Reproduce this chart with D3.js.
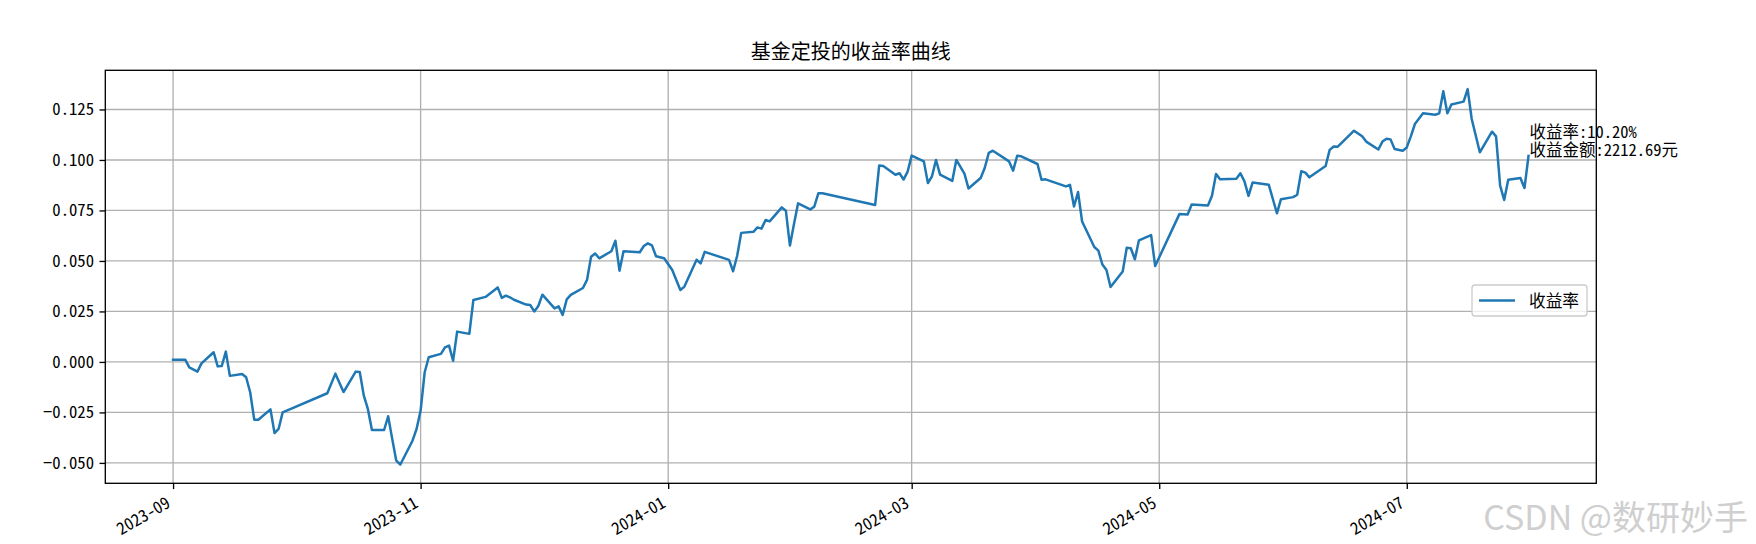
<!DOCTYPE html>
<html>
<head>
<meta charset="utf-8">
<script src="https://cdn.jsdelivr.net/npm/d3@7"></script>
<style>
  html, body { margin: 0; padding: 0; background: #fff; }
  svg text { font-family: "Noto Sans CJK SC", "Noto Sans", sans-serif; font-feature-settings: "hwid" 1; }
  svg text.wm { font-feature-settings: normal; }
</style>
</head>
<body>
<svg id="chart" width="1756" height="544"></svg>
<script>
// ---------------- data ----------------
const dates = [
  "2023-09-01","2023-09-04","2023-09-05","2023-09-07","2023-09-08","2023-09-11","2023-09-12","2023-09-13","2023-09-14","2023-09-15","2023-09-18","2023-09-19","2023-09-20","2023-09-21","2023-09-22","2023-09-25","2023-09-26","2023-09-27","2023-09-28",
  "2023-10-09","2023-10-11","2023-10-13","2023-10-16","2023-10-17","2023-10-18","2023-10-19","2023-10-20","2023-10-23","2023-10-24","2023-10-25","2023-10-26","2023-10-27","2023-10-30","2023-10-31",
  "2023-11-01","2023-11-02","2023-11-03","2023-11-06","2023-11-07","2023-11-08","2023-11-09","2023-11-10","2023-11-13","2023-11-14","2023-11-17","2023-11-20","2023-11-21","2023-11-22","2023-11-23","2023-11-24","2023-11-27","2023-11-28","2023-11-29","2023-11-30",
  "2023-12-01","2023-12-04","2023-12-05","2023-12-06","2023-12-07","2023-12-08","2023-12-11","2023-12-12","2023-12-13","2023-12-14","2023-12-15","2023-12-18","2023-12-19","2023-12-20","2023-12-21","2023-12-25","2023-12-26","2023-12-27","2023-12-28","2023-12-29","2023-12-31",
  "2024-01-02","2024-01-04","2024-01-05","2024-01-08","2024-01-09","2024-01-10","2024-01-16","2024-01-17","2024-01-18","2024-01-19","2024-01-22","2024-01-23","2024-01-24","2024-01-25","2024-01-26","2024-01-29","2024-01-30","2024-01-31",
  "2024-02-01","2024-02-02","2024-02-05","2024-02-06","2024-02-07","2024-02-08","2024-02-21","2024-02-22","2024-02-23","2024-02-26","2024-02-27","2024-02-28","2024-02-29",
  "2024-03-01","2024-03-04","2024-03-05","2024-03-06","2024-03-07","2024-03-08","2024-03-11","2024-03-12","2024-03-14","2024-03-15","2024-03-18","2024-03-19","2024-03-20","2024-03-21","2024-03-25","2024-03-26","2024-03-27","2024-03-28",
  "2024-04-01","2024-04-02","2024-04-03","2024-04-08","2024-04-09","2024-04-10","2024-04-11","2024-04-12","2024-04-15","2024-04-16","2024-04-17","2024-04-18","2024-04-19","2024-04-22","2024-04-23","2024-04-24","2024-04-25","2024-04-26","2024-04-29","2024-04-30",
  "2024-05-06","2024-05-08","2024-05-09","2024-05-13","2024-05-14","2024-05-15","2024-05-16","2024-05-20","2024-05-21","2024-05-22","2024-05-23","2024-05-24","2024-05-28","2024-05-30","2024-05-31",
  "2024-06-03","2024-06-04","2024-06-05","2024-06-06","2024-06-07","2024-06-11","2024-06-12","2024-06-13","2024-06-14","2024-06-18","2024-06-20","2024-06-21","2024-06-24","2024-06-25","2024-06-26","2024-06-27","2024-06-28","2024-06-30",
  "2024-07-01","2024-07-02","2024-07-03","2024-07-05","2024-07-08","2024-07-09","2024-07-10","2024-07-11","2024-07-12","2024-07-15","2024-07-16","2024-07-17","2024-07-19","2024-07-22","2024-07-23","2024-07-24","2024-07-25","2024-07-26","2024-07-29","2024-07-30","2024-07-31"
];
const returnRates = [
  0.0011, 0.0011, -0.0027, -0.0048, -0.0007, 0.0048, -0.0022, -0.0020, 0.0051, -0.0069, -0.0060, -0.0076, -0.0150, -0.0286, -0.0286, -0.0235, -0.0352, -0.0332, -0.0250,
  -0.0155, -0.0058, -0.0149, -0.0048, -0.0050, -0.0167, -0.0233, -0.0337, -0.0337, -0.0269, -0.0381, -0.0489, -0.0508, -0.0390, -0.0332,
  -0.0241, -0.0051, 0.0023, 0.0040, 0.0072, 0.0081, 0.0006, 0.0150, 0.0139, 0.0307, 0.0322, 0.0369, 0.0317, 0.0328, 0.0320, 0.0308, 0.0284, 0.0282, 0.0250, 0.0277,
  0.0333, 0.0265, 0.0275, 0.0233, 0.0310, 0.0332, 0.0366, 0.0406, 0.0521, 0.0537, 0.0513, 0.0548, 0.0600, 0.0452, 0.0548, 0.0543, 0.0574, 0.0587, 0.0577, 0.0523, 0.0513,
  0.0455, 0.0356, 0.0373, 0.0506, 0.0488, 0.0545, 0.0505, 0.0449, 0.0526, 0.0639, 0.0644, 0.0666, 0.0660, 0.0703, 0.0696, 0.0765, 0.0749, 0.0576,
  0.0683, 0.0785, 0.0755, 0.0769, 0.0835, 0.0835, 0.0777, 0.0973, 0.0970, 0.0927, 0.0934, 0.0903, 0.0942,
  0.1022, 0.0993, 0.0886, 0.0919, 0.1000, 0.0927, 0.0896, 0.1000, 0.0932, 0.0859, 0.0911, 0.0960, 0.1035, 0.1046, 0.0993, 0.0947, 0.1021, 0.1018,
  0.0980, 0.0902, 0.0904, 0.0869, 0.0877, 0.0770, 0.0841, 0.0695, 0.0569, 0.0551, 0.0482, 0.0455, 0.0371, 0.0448, 0.0565, 0.0563, 0.0508, 0.0602, 0.0628, 0.0475,
  0.0733, 0.0730, 0.0779, 0.0775, 0.0823, 0.0931, 0.0904, 0.0907, 0.0934, 0.0894, 0.0822, 0.0888, 0.0877, 0.0736, 0.0806,
  0.0816, 0.0828, 0.0944, 0.0937, 0.0914, 0.0970, 0.1050, 0.1067, 0.1066, 0.1145, 0.1117, 0.1091, 0.1052, 0.1091, 0.1105, 0.1102, 0.1054, 0.1046,
  0.1062, 0.1117, 0.1178, 0.1231, 0.1224, 0.1231, 0.1340, 0.1231, 0.1275, 0.1289, 0.1351, 0.1203, 0.1038, 0.1140, 0.1117, 0.0873, 0.0802, 0.0902, 0.0911, 0.0861, 0.1020
];
const xTickLabels = ["2023-09", "2023-11", "2024-01", "2024-03", "2024-05", "2024-07"];
const yTickValues = [-0.050, -0.025, 0.000, 0.025, 0.050, 0.075, 0.100, 0.125];
const titleText = "基金定投的收益率曲线";
const seriesName = "收益率";
const finalRateText = "收益率:10.20%";
const finalAmountText = "收益金额:2212.69元";
const watermarkText = "CSDN @数研妙手";

// ---------------- layout ----------------
const W = 1756, H = 544;
const plot = { left: 105.3, right: 1596.3, top: 70.3, bottom: 483.3 };
const LINE_COLOR = "#1f77b4";
const FS = 16.7;

const parse = d3.timeParse("%Y-%m-%d");
const data = dates.map((d, i) => ({ date: parse(d), value: returnRates[i] }));

const svg = d3.select("#chart");
svg.append("rect").attr("width", W).attr("height", H).attr("fill", "#fff");

// scales with matplotlib-like 5% margins
const [t0, t1] = d3.extent(data, d => d.date);
const tPad = (t1 - t0) * 0.05;
const x = d3.scaleTime()
  .domain([new Date(+t0 - tPad), new Date(+t1 + tPad)])
  .range([plot.left, plot.right]);
const [v0, v1] = d3.extent(data, d => d.value);
const vPad = (v1 - v0) * 0.05;
const y = d3.scaleLinear()
  .domain([v0 - vPad, v1 + vPad])
  .range([plot.bottom, plot.top]);

const xTicks = xTickLabels.map(s => d3.timeParse("%Y-%m")(s));

// grid
const grid = svg.append("g");
grid.selectAll("line.gx").data(xTicks).join("line")
  .attr("x1", d => x(d)).attr("x2", d => x(d))
  .attr("y1", plot.top).attr("y2", plot.bottom)
  .attr("stroke", "#b0b0b0").attr("stroke-width", 1.33);
grid.selectAll("line.gy").data(yTickValues).join("line")
  .attr("x1", plot.left).attr("x2", plot.right)
  .attr("y1", d => y(d)).attr("y2", d => y(d))
  .attr("stroke", "#b0b0b0").attr("stroke-width", 1.33);

// line
const line = d3.line().x(d => x(d.date)).y(d => y(d.value));
svg.append("path").datum(data)
  .attr("d", line)
  .attr("fill", "none")
  .attr("stroke", LINE_COLOR)
  .attr("stroke-width", 2.5)
  .attr("stroke-linejoin", "round")
  .attr("stroke-linecap", "square");

// spines
svg.append("rect")
  .attr("x", plot.left).attr("y", plot.top)
  .attr("width", plot.right - plot.left).attr("height", plot.bottom - plot.top)
  .attr("fill", "none").attr("stroke", "#000").attr("stroke-width", 1.33);

// y axis
const yAxis = d3.axisLeft(y)
  .tickValues(yTickValues)
  .tickSize(5.8).tickPadding(5.5)
  .tickFormat(d => (d < 0 ? "\u2212" : "") + Math.abs(d).toFixed(3));
const gy = svg.append("g").attr("transform", `translate(${plot.left},0)`).call(yAxis);
gy.select(".domain").remove();
gy.selectAll(".tick line").attr("stroke", "#000").attr("stroke-width", 1.33);
gy.selectAll(".tick text").attr("font-size", FS).attr("fill", "#000")
  .attr("font-family", "'Noto Sans CJK SC', sans-serif");

// x axis
const xAxis = d3.axisBottom(x)
  .tickValues(xTicks)
  .tickSize(5.8)
  .tickFormat(d3.timeFormat("%Y-%m"));
const gx = svg.append("g").attr("transform", `translate(0,${plot.bottom})`).call(xAxis);
gx.select(".domain").remove();
gx.selectAll(".tick line").attr("stroke", "#000").attr("stroke-width", 1.33);
gx.selectAll(".tick text")
  .attr("font-size", FS).attr("fill", "#000")
  .attr("font-family", "'Noto Sans CJK SC', sans-serif")
  .attr("text-anchor", "end")
  .attr("dy", null)
  .attr("y", 0)
  .attr("transform", "translate(-2,23) rotate(-30)");

// title
svg.append("text")
  .attr("x", (plot.left + plot.right) / 2).attr("y", 58.5)
  .attr("text-anchor", "middle")
  .attr("font-size", 20).attr("fill", "#000")
  .text(titleText);

// annotation at the last point
const last = data[data.length - 1];
const ann = svg.append("text")
  .attr("font-size", 16.5).attr("fill", "#000");
ann.append("tspan").attr("x", x(last.date) + 1).attr("y", y(last.value) - 18).text(finalRateText);
ann.append("tspan").attr("x", x(last.date) + 1).attr("y", y(last.value)).text(finalAmountText);

// legend
const lg = svg.append("g");
const lgBox = { x: 1472, y: 285, w: 115, h: 31 };
lg.append("rect")
  .attr("x", lgBox.x).attr("y", lgBox.y).attr("width", lgBox.w).attr("height", lgBox.h)
  .attr("rx", 3).attr("ry", 3)
  .attr("fill", "#fff").attr("fill-opacity", 0.8)
  .attr("stroke", "#cccccc").attr("stroke-width", 1.33);
lg.append("line")
  .attr("x1", lgBox.x + 7).attr("x2", lgBox.x + 43)
  .attr("y1", lgBox.y + lgBox.h / 2).attr("y2", lgBox.y + lgBox.h / 2)
  .attr("stroke", LINE_COLOR).attr("stroke-width", 2.5);
lg.append("text")
  .attr("x", lgBox.x + 57).attr("y", lgBox.y + lgBox.h / 2 + 6)
  .attr("font-size", FS).attr("fill", "#000")
  .text(seriesName);

// watermark
svg.append("text")
  .attr("class", "wm")
  .attr("x", 1748).attr("y", 530)
  .attr("text-anchor", "end")
  .attr("font-size", 34).attr("fill", "#cfcfcf")
  .text(watermarkText);
</script>
</body>
</html>
